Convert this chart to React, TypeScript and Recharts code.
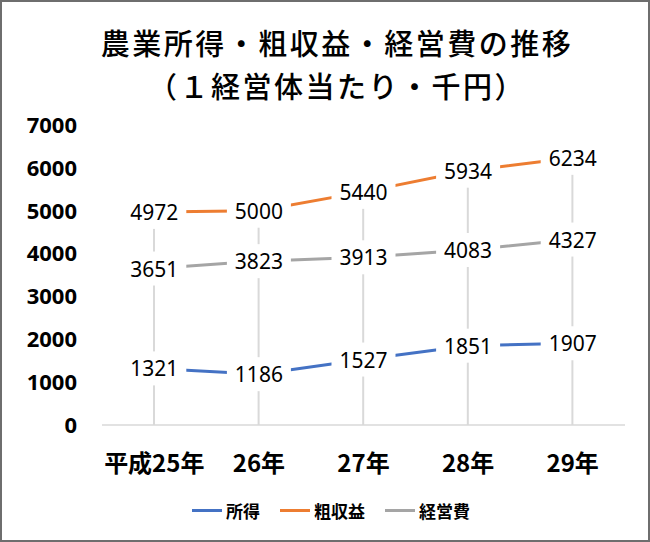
import {Bar, ComposedChart, LabelList, Line, XAxis, YAxis} from "recharts";

const years = ["平成25年", "26年", "27年", "28年", "29年"];
const income = [1321, 1186, 1527, 1851, 1907];
const gross = [4972, 5000, 5440, 5934, 6234];
const cost = [3651, 3823, 3913, 4083, 4327];
const yTicks = [0, 1000, 2000, 3000, 4000, 5000, 6000, 7000];
const titleLines = ["農業所得・粗収益・経営費の推移", "（１経営体当たり・千円）"];

const series = [
    {key: "income", name: "所得", color: "#4472C4"},
    {key: "gross", name: "粗収益", color: "#ED7D31"},
    {key: "cost", name: "経営費", color: "#A5A5A5"},
];

const data = years.map((year, i) => ({
    year,
    income: income[i],
    gross: gross[i],
    cost: cost[i],
    drop: Math.max(income[i], gross[i], cost[i]),
}));

// white box behind the value so the line breaks around it, like Excel
const renderLabel = (props: any) => {
    const x = props.x ?? props.viewBox?.x;
    const y = props.y ?? props.viewBox?.y;
    const text = String(props.value);
    const w = text.length * 12 + 16;
    return (
        <g>
            <rect x={x - w / 2} y={y - 17} width={w} height={34} fill="#fff"/>
            <text x={x} y={y} textAnchor="middle" dominantBaseline="central"
                  fontSize={21} fontFamily="Noto Sans" fill="#000">{text}</text>
        </g>
    );
};

export default function App() {
    return (
        <div style={{position: "absolute", left: 0, top: 0, width: 650, height: 542, background: "#fff"}}>
            {titleLines.map((line, i) => (
                <div key={i} style={{
                    position: "absolute", left: 12, top: 21 + i * 43, width: 650, height: 43, textAlign: "center",
                    fontFamily: "'Noto Sans CJK JP Medium', 'Noto Sans CJK JP'", fontSize: 29, lineHeight: "43px",
                    letterSpacing: 2.5, color: "#000", fontWeight: 500, whiteSpace: "nowrap",
                }}>{line}</div>
            ))}
            <ComposedChart width={650} height={542} data={data} margin={{top: 125, right: 25, left: 0, bottom: 0}}>
                <XAxis dataKey="year" height={117} tickLine={false} tickSize={0} tickMargin={30}
                       stroke="#d9d9d9" strokeWidth={1.5}
                       tick={{fontSize: 24, fontWeight: 700, fill: "#000", fontFamily: "Noto Sans CJK JP"}}/>
                <YAxis width={102} domain={[0, 7000]} ticks={yTicks} axisLine={false} tickLine={false}
                       tickSize={0} tickMargin={25}
                       tick={{fontSize: 22, fontWeight: 700, fill: "#000", fontFamily: "Noto Sans"}}/>
                <Bar dataKey="drop" barSize={2} fill="#d9d9d9" isAnimationActive={false}/>
                {series.map(s => (
                    <Line key={s.key} type="linear" dataKey={s.key} stroke={s.color} strokeWidth={3}
                          dot={false} isAnimationActive={false}>
                        <LabelList dataKey={s.key} content={renderLabel}/>
                    </Line>
                ))}
            </ComposedChart>
            <div style={{
                position: "absolute", left: 0, top: 497, width: 650, display: "flex", justifyContent: "center",
                gap: 20, paddingLeft: 12, boxSizing: "border-box",
                fontFamily: "'Noto Sans CJK JP'", fontSize: 17, fontWeight: 700, color: "#000",
            }}>
                {series.map(s => (
                    <div key={s.key} style={{display: "flex", alignItems: "center", gap: 4, height: 26}}>
                        <div style={{width: 30, height: 3, background: s.color}}/>
                        <span>{s.name}</span>
                    </div>
                ))}
            </div>
            <div style={{
                position: "absolute", left: 0, top: 0, width: 650, height: 542, boxSizing: "border-box",
                border: "2px solid #6e6e6e", pointerEvents: "none",
            }}/>
        </div>
    );
}
